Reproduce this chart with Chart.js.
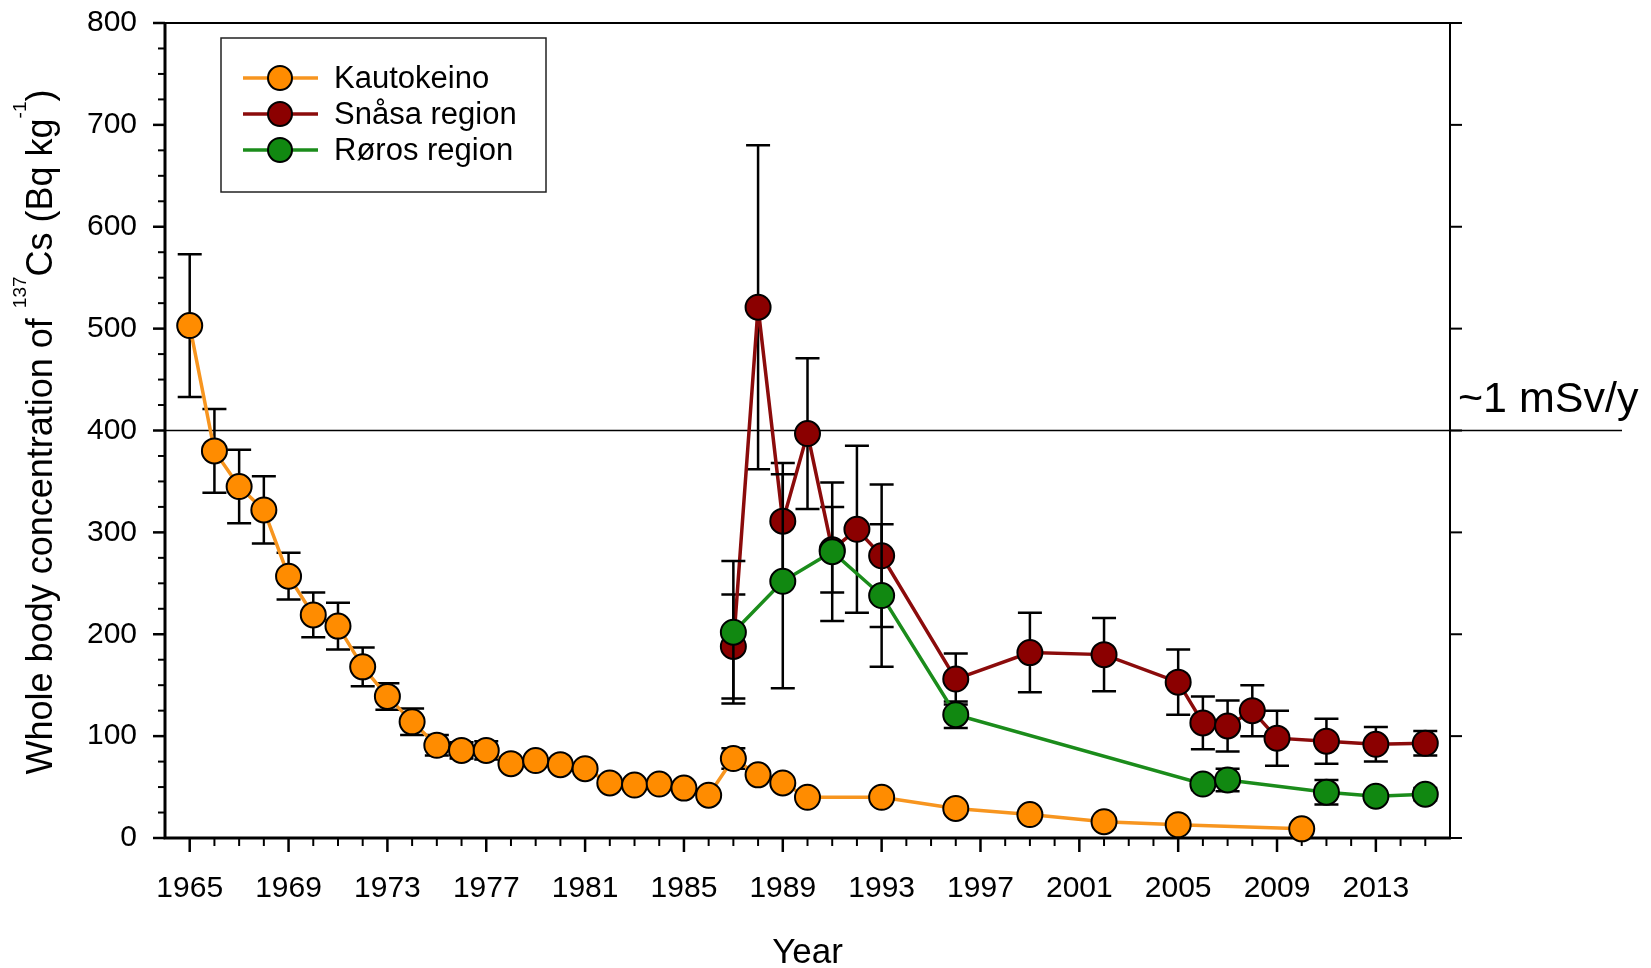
<!DOCTYPE html>
<html>
<head>
<meta charset="utf-8">
<script src="https://cdn.jsdelivr.net/npm/chart.js@4.4.1/dist/chart.umd.min.js"></script>
<style>
html,body{margin:0;padding:0;background:#ffffff;}
canvas{display:block;}
</style>
</head>
<body>
<canvas id="chart" width="1651" height="968"></canvas>
<script>
// ---------------- DATA ----------------
const kautokeinoYears  = [1965,1966,1967,1968,1969,1970,1971,1972,1973,1974,1975,1976,1977,1978,1979,1980,1981,1982,1983,1984,1985,1986,1987,1988,1989,1990,1993,1996,1999,2002,2005,2010];
const kautokeinoValues = [503,380,345,322,257,219,208,168,139,114,91,86,86,73,76,72,68,54,52,53,49,42,78,62,54,40,40,29,23,16,13,9];
const kautokeinoErrors = [70,41,36,33,23,22,23,19,13,13,10,8,9,4,4,4,4,4,4,4,4,4,10,4,4,4,4,4,4,4,4,4];

const snasaYears  = [1987,1988,1989,1990,1991,1992,1993,1996,1999,2002,2005,2006,2007,2008,2009,2011,2013,2015];
const snasaValues = [188,521,311,397,283,303,277,156,182,180,153,113,110,125,98,95,92,93];
const snasaErrors = [51,159,57,74,42,82,70,25,39,36,32,26,25,25,27,22,17,12];

const rorosYears  = [1987,1989,1991,1993,1996,2006,2007,2011,2013,2015];
const rorosValues = [202,252,281,238,121,53,57,45,41,43];
const rorosErrors = [70,105,68,70,13,6,11,12,5,6];

const seriesLabels = ['Kautokeino','Snåsa region','Røros region'];
const xTickLabels = [1965,1969,1973,1977,1981,1985,1989,1993,1997,2001,2005,2009,2013];
const yTickValues = [0,100,200,300,400,500,600,700,800];
const referenceLevel = 400;
const referenceText = '~1 mSv/y';

// ---------------- STYLE ----------------
const FONT = '"Liberation Sans", Arial, Helvetica, sans-serif';
const COLORS = {
  kaut:  {fill:'#FF8C00', line:'#F7951F'},
  snasa: {fill:'#8B0000', line:'#8B0B0B'},
  roros: {fill:'#118811', line:'#1B8C1B'}
};

function toPoints(xs, ys){ return xs.map((x,i)=>({x:x, y:ys[i]})); }

function makeDataset(label, xs, ys, errs, col, order){
  return {
    label: label,
    data: toPoints(xs, ys),
    errors: errs,
    borderColor: col.line,
    backgroundColor: col.fill,
    borderWidth: 3.5,
    pointRadius: 12.5,
    pointHoverRadius: 12.5,
    pointBackgroundColor: col.fill,
    pointBorderColor: '#000000',
    pointBorderWidth: 2,
    tension: 0,
    clip: false,
    order: order,
    fill: false
  };
}

// ---------------- PLUGINS ----------------
const frameAndRefPlugin = {
  id: 'frameAndRef',
  beforeDatasetsDraw(chart){
    const ctx = chart.ctx;
    const a = chart.chartArea;
    const xs = chart.scales.x, ys = chart.scales.y;
    ctx.save();
    ctx.strokeStyle = '#000';
    ctx.lineCap = 'butt';
    ctx.lineWidth = 2;
    ctx.beginPath();
    ctx.moveTo(a.left, a.top); ctx.lineTo(a.right, a.top);
    ctx.moveTo(a.right, a.top); ctx.lineTo(a.right, a.bottom);
    ctx.stroke();
    ctx.lineWidth = 3;
    ctx.beginPath();
    ctx.moveTo(a.left, a.top - 1); ctx.lineTo(a.left, a.bottom + 1.5);
    ctx.moveTo(a.left - 1.5, a.bottom); ctx.lineTo(a.right + 1, a.bottom);
    ctx.stroke();
    for (let v = 0; v <= 800; v += 25){
      const py = ys.getPixelForValue(v);
      const major = (v % 100 === 0);
      ctx.lineWidth = major ? 2.5 : 2;
      ctx.beginPath();
      ctx.moveTo(a.left, py); ctx.lineTo(a.left - (major ? 12 : 7), py);
      ctx.stroke();
    }
    yTickValues.forEach(v=>{
      const py = ys.getPixelForValue(v);
      ctx.lineWidth = 2;
      ctx.beginPath();
      ctx.moveTo(a.right, py); ctx.lineTo(a.right + 12, py);
      ctx.stroke();
    });
    for (let yr = 1965; yr <= 2015; yr++){
      const px = xs.getPixelForValue(yr);
      const major = xTickLabels.includes(yr);
      ctx.lineWidth = major ? 2.5 : 2;
      ctx.beginPath();
      ctx.moveTo(px, a.bottom); ctx.lineTo(px, a.bottom + (major ? 14 : 8));
      ctx.stroke();
    }
    const ry = ys.getPixelForValue(referenceLevel);
    ctx.lineWidth = 1.6;
    ctx.beginPath();
    ctx.moveTo(a.left, ry); ctx.lineTo(1622, ry);
    ctx.stroke();
    ctx.restore();
  }
};

const errorBarPlugin = {
  id: 'errorBars',
  beforeDatasetDraw(chart, args){
    const ds = chart.data.datasets[args.index];
    const meta = args.meta;
    const ys = chart.scales.y;
    const ctx = chart.ctx;
    ctx.save();
    ctx.strokeStyle = '#000';
    ctx.lineWidth = 2.5;
    meta.data.forEach((pt, i)=>{
      const v = ds.data[i].y, e = ds.errors[i];
      const top = ys.getPixelForValue(v + e);
      const bot = ys.getPixelForValue(v - e);
      const x = pt.x;
      ctx.beginPath();
      ctx.moveTo(x, top); ctx.lineTo(x, bot);
      ctx.moveTo(x - 12, top); ctx.lineTo(x + 12, top);
      ctx.moveTo(x - 12, bot); ctx.lineTo(x + 12, bot);
      ctx.stroke();
    });
    ctx.restore();
  }
};

const annotationsPlugin = {
  id: 'annotations',
  afterDraw(chart){
    const ctx = chart.ctx;
    const ys = chart.scales.y;
    ctx.save();
    ctx.fillStyle = '#000';
    ctx.font = '43px ' + FONT;
    ctx.textAlign = 'left';
    ctx.textBaseline = 'alphabetic';
    ctx.fillText(referenceText, 1458, ys.getPixelForValue(referenceLevel) - 19);

    const mainSize = 36, supSize = 19, raise = 26;
    const parts = [
      {t:'Whole body concentration of ', s:mainSize, r:0},
      {t:'137', s:supSize, r:raise},
      {t:'Cs (Bq kg', s:mainSize, r:0},
      {t:'-1', s:supSize, r:raise},
      {t:')', s:mainSize, r:0}
    ];
    let total = 0;
    parts.forEach(p=>{ ctx.font = p.s + 'px ' + FONT; p.w = ctx.measureText(p.t).width; total += p.w; });
    ctx.translate(52, 432);
    ctx.rotate(-Math.PI/2);
    let cx = -total/2;
    parts.forEach(p=>{
      ctx.font = p.s + 'px ' + FONT;
      ctx.fillText(p.t, cx, -p.r);
      cx += p.w;
    });
    ctx.restore();

    ctx.save();
    ctx.strokeStyle = '#222';
    ctx.lineWidth = 1.5;
    ctx.strokeRect(221, 38, 325, 154);
    const rows = [78, 114, 150];
    chart.data.datasets.forEach((ds, i)=>{
      const y = rows[i];
      ctx.strokeStyle = ds.borderColor;
      ctx.lineWidth = 3.5;
      ctx.beginPath();
      ctx.moveTo(243, y); ctx.lineTo(318, y);
      ctx.stroke();
      ctx.beginPath();
      ctx.arc(280, y, 12, 0, Math.PI*2);
      ctx.fillStyle = ds.pointBackgroundColor;
      ctx.fill();
      ctx.strokeStyle = '#000';
      ctx.lineWidth = 2;
      ctx.stroke();
      ctx.fillStyle = '#000';
      ctx.font = '31px ' + FONT;
      ctx.textAlign = 'left';
      ctx.textBaseline = 'middle';
      ctx.fillText(ds.label, 334, y + 1);
    });
    ctx.restore();
  }
};

// ---------------- CHART ----------------
const chart = new Chart(document.getElementById('chart'), {
  type: 'line',
  data: {
    datasets: [
      makeDataset(seriesLabels[0], kautokeinoYears, kautokeinoValues, kautokeinoErrors, COLORS.kaut, 3),
      makeDataset(seriesLabels[1], snasaYears, snasaValues, snasaErrors, COLORS.snasa, 2),
      makeDataset(seriesLabels[2], rorosYears, rorosValues, rorosErrors, COLORS.roros, 1)
    ]
  },
  options: {
    responsive: false,
    animation: false,
    devicePixelRatio: 1,
    layout: {padding: {left: 0, right: 201, top: 23, bottom: 0}},
    plugins: {
      legend: {display: false},
      tooltip: {enabled: false},
      title: {display: false}
    },
    scales: {
      x: {
        type: 'linear',
        min: 1964, max: 2016,
        afterBuildTicks: s => { s.ticks = xTickLabels.map(v => ({value: v})); },
        afterFit: s => { s.height = 130; s.paddingLeft = 0; s.paddingRight = 0; },
        grid: {display: false},
        border: {display: false},
        ticks: {
          font: {family: FONT, size: 30},
          color: '#000',
          padding: 25,
          maxRotation: 0, minRotation: 0,
          autoSkip: false,
          callback: v => String(v)
        },
        title: {
          display: true, text: 'Year', color: '#000',
          font: {family: FONT, size: 35, lineHeight: 0.85},
          padding: {top: 0, bottom: 0}
        }
      },
      y: {
        type: 'linear',
        min: 0, max: 800,
        afterBuildTicks: s => { s.ticks = yTickValues.map(v => ({value: v})); },
        afterFit: s => { s.width = 165; s.paddingTop = 0; s.paddingBottom = 0; },
        grid: {display: false},
        border: {display: false},
        ticks: {
          font: {family: FONT, size: 30},
          color: '#000',
          padding: 20,
          callback: v => String(v)
        }
      }
    }
  },
  plugins: [frameAndRefPlugin, errorBarPlugin, annotationsPlugin]
});
</script>
</body>
</html>
